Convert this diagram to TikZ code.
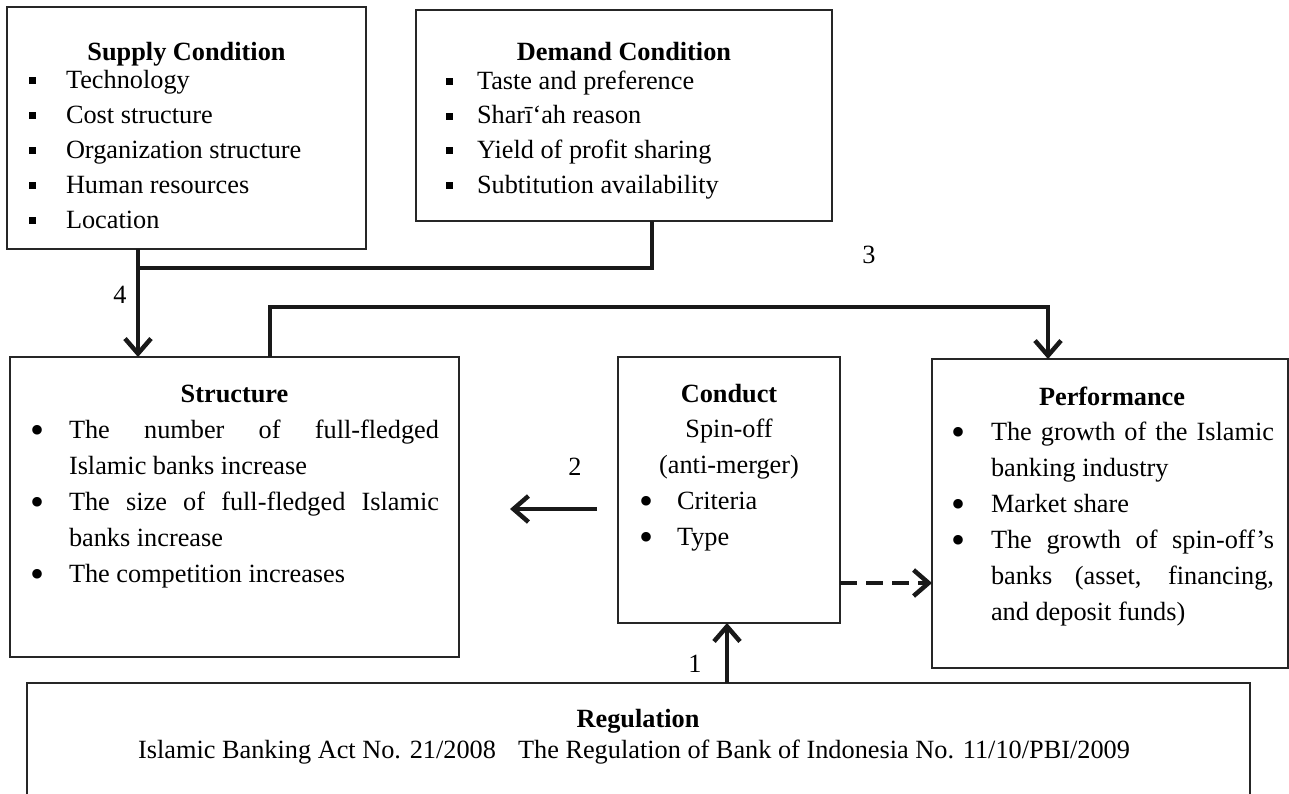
\documentclass[tikz,border=0pt]{standalone}
\usepackage{fontspec}
\setmainfont{Liberation Serif}
\usetikzlibrary{arrows.meta}
\newcommand\sqitem[2]{\noindent\hangindent=#1\hangafter=1\makebox[#1][l]{\raisebox{4pt}{\rule{7pt}{7pt}}}#2\par}
\newcommand\dtitem[2]{\noindent\hangindent=#1\hangafter=1\makebox[#1][l]{\hspace{-2pt}\smash{\raisebox{-5pt}{\fontsize{40}{40}\selectfont\textbullet}}}#2\par}
\tikzset{
  box/.style={draw=black!85, line width=1.5pt, rectangle, anchor=north west, inner sep=0pt, outer sep=0pt},
  txt/.style={inner sep=0pt, outer sep=0pt, font=\fontsize{26.3}{36}\selectfont},
  lst/.style={txt, align=justify, anchor=base west},
  ttl/.style={inner sep=0pt, outer sep=0pt, anchor=base, font=\fontsize{26.3}{36}\selectfont\bfseries},
  num/.style={inner sep=0pt, font=\fontsize{26.3}{32}\selectfont},
  conn/.style={draw=black!90, line width=4.5pt, -{Straight Barb[length=15pt,width=26pt]}},
  link/.style={draw=black!90, line width=4.5pt},
}
\begin{document}
\begin{tikzpicture}[x=1pt,y=-1pt]
\clip (0,0) rectangle (1289,793);
\fill[white] (0,0) rectangle (1289,793);
% boxes
\node[box, minimum width=359pt, minimum height=242pt] (sup) at (7,7) {};
\node[box, minimum width=416pt, minimum height=211pt] (dem) at (416,10) {};
\node[box, minimum width=449pt, minimum height=300pt] (str) at (10,357) {};
\node[box, minimum width=222pt, minimum height=266pt] (cond) at (618,357) {};
\node[box, minimum width=356pt, minimum height=309pt] (perf) at (932,359) {};
\node[box, minimum width=1223pt, minimum height=140pt] (reg) at (27,683) {};
% supply
\node[ttl] (supt) at (186.5,60) {Supply Condition};
\node[lst, text width=330pt, font=\fontsize{26.3}{35}\selectfont] (supl) at (29,88) {%
\sqitem{37pt}{Technology}%
\sqitem{37pt}{Cost structure}%
\sqitem{37pt}{Organization structure}%
\sqitem{37pt}{Human resources}%
\sqitem{37pt}{Location}};
% demand
\node[ttl] (demt) at (624,60) {Demand Condition};
\node[lst, text width=370pt, font=\fontsize{26.3}{34.7}\selectfont] (deml) at (446,89) {%
\sqitem{31pt}{Taste and preference}%
\sqitem{31pt}{Sharī‘ah reason}%
\sqitem{31pt}{Yield of profit sharing}%
\sqitem{31pt}{Subtitution availability}};
% structure
\node[ttl] (strt) at (234.5,402) {Structure};
\node[lst, text width=407pt] (strl) at (32,438) {\hfuzz=3pt%
\dtitem{37pt}{The number of full-fledged\linebreak Islamic banks increase}%
\dtitem{37pt}{The size of full-fledged Islamic\linebreak banks increase}%
\dtitem{37pt}{The competition increases}};
% conduct
\node[ttl] (condt) at (729,402) {Conduct};
\node[txt, anchor=base] (conds) at (729,437) {Spin-off};
\node[txt, anchor=base] (conda) at (729,473) {(anti-merger)};
\node[lst, text width=190pt] (condl) at (641,509) {%
\dtitem{36pt}{Criteria}%
\dtitem{36pt}{Type}};
% performance
\node[ttl] (perft) at (1112,405) {Performance};
\node[lst, text width=321pt] (perfl) at (953,440) {\hfuzz=4pt%
\dtitem{38pt}{The growth of the Islamic\linebreak banking industry}%
\dtitem{38pt}{Market share}%
\dtitem{38pt}{The growth of spin-off’s\linebreak banks (asset, financing,\linebreak and deposit funds)}};
% regulation
\node[ttl] (regt) at (638,727) {Regulation};
\node[txt, anchor=base] (regl) at (634,758) {Islamic Banking Act No. 21/2008\hspace{22pt}The Regulation of Bank of Indonesia No. 11/10/PBI/2009};
% connector coordinates
\coordinate (x4) at (138,0);
\coordinate (x3d) at (652,0);
\coordinate (jn) at (138,268);
\coordinate (xs) at (270,0);
\coordinate (xp) at (1048,0);
\coordinate (up) at (0,307);
\coordinate (x1) at (727,0);
\coordinate (a2s) at (597,509);
\coordinate (a2e) at (510,509);
\coordinate (dy) at (0,583);
% connectors
\draw[conn] (sup.south -| x4) -- (str.north -| x4);
\draw[link] (dem.south -| x3d) |- (jn);
\draw[conn] (str.north -| xs) -- (xs |- up) -- (xp |- up) -- (perf.north -| xp);
\draw[conn] (reg.north -| x1) -- (cond.south -| x1);
\draw[conn] (a2s) -- (a2e);
\draw[conn, dash pattern=on 17pt off 9pt] (cond.east |- dy) -- (perf.west |- dy);
% labels
\node[num] (n4) at (120,295) {4};
\node[num] (n3) at (869,255) {3};
\node[num] (n2) at (575,467) {2};
\node[num] (n1) at (695,664) {1};
\end{tikzpicture}
\end{document}
